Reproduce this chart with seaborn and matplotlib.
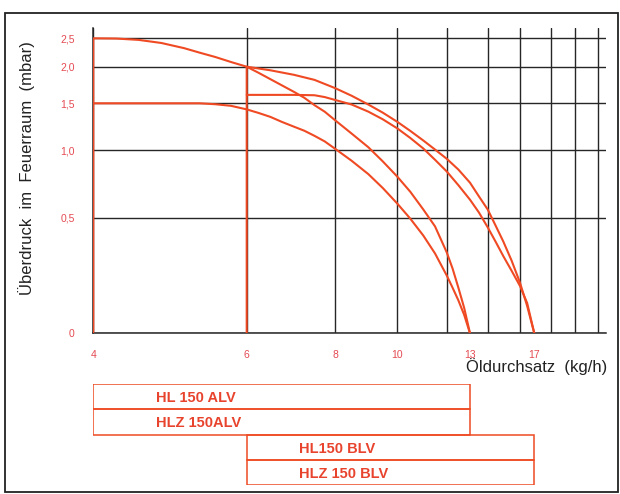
import numpy as np
import pandas as pd
import matplotlib
matplotlib.use("Agg")
import matplotlib.pyplot as plt
import seaborn as sns

# ---------------- data ----------------
# Curve ALV upper (incl. vertical edge at 4 kg/h)
alv_upper_x = [4, 4, 4.25, 4.5, 4.75, 5.0, 5.25, 5.5, 5.75, 6.0, 6.25, 6.5, 6.75, 7.0, 7.25, 7.5, 7.75,
               8.0, 8.5, 9.0, 9.5, 10.0, 10.5, 11.0, 11.5, 12.0, 12.25, 12.5, 12.75, 13.0]
alv_upper_y = [0, 2.5, 2.495, 2.466, 2.40, 2.29, 2.21, 2.145, 2.07, 2.0, 1.917, 1.83, 1.743, 1.656, 1.576,
               1.48, 1.41, 1.32, 1.176, 1.03, 0.91, 0.79, 0.68, 0.557, 0.455, 0.32, 0.24, 0.169, 0.094, 0.0]
# Curve ALV lower
alv_lower_x = [4, 5.25, 5.5, 5.75, 6.0, 6.25, 6.5, 6.75, 7.0, 7.25, 7.5, 7.75, 8.0, 8.5, 9.0, 9.5,
               10.0, 10.5, 11.0, 11.5, 12.0, 12.25, 12.5, 12.75, 13.0]
alv_lower_y = [1.5, 1.5, 1.49, 1.473, 1.435, 1.397, 1.355, 1.30, 1.25, 1.207, 1.152, 1.092, 1.014, 0.915,
               0.81, 0.706, 0.598, 0.495, 0.407, 0.314, 0.214, 0.169, 0.122, 0.068, 0.0]
# Curve BLV upper (incl. vertical edge at 6 kg/h)
blv_upper_x = [6, 6, 6.5, 7.0, 7.5, 8.0, 8.5, 9.0, 9.5, 10.0, 10.5, 11.0, 11.5, 12.0, 12.5, 13.0,
               13.5, 14.0, 14.5, 15.0, 15.5, 16.0, 16.5, 17.0]
blv_upper_y = [0, 2.0, 1.951, 1.889, 1.82, 1.708, 1.603, 1.487, 1.40, 1.302, 1.205, 1.102, 1.005, 0.931,
               0.846, 0.743, 0.649, 0.557, 0.46, 0.376, 0.276, 0.187, 0.101, 0.0]
# Curve BLV lower
blv_lower_x = [6, 7.0, 7.5, 7.75, 8.0, 8.5, 9.0, 9.5, 10.0, 10.5, 11.0, 11.5, 12.0, 12.5, 13.0,
               13.5, 14.0, 14.5, 15.0, 15.5, 16.0, 16.5, 17.0]
blv_lower_y = [1.615, 1.615, 1.61, 1.585, 1.546, 1.487, 1.411, 1.329, 1.232, 1.129, 1.016, 0.923, 0.831,
               0.726, 0.625, 0.537, 0.45, 0.376, 0.30, 0.231, 0.175, 0.112, 0.0]

# Model ranges (kg/h)
model_names = ["HL 150 ALV", "HLZ 150ALV", "HL150 BLV", "HLZ 150 BLV"]
model_min = [4, 4, 6, 6]
model_max = [13, 13, 17, 17]

x_ticks = list(range(4, 23))
x_ticklabels = {4: "4", 6: "6", 8: "8", 10: "10", 13: "13", 17: "17"}
x_grid = list(range(4, 23, 2))
y_ticks = [0, 0.5, 1.0, 1.5, 2.0, 2.5]
y_ticklabels = ["0", "0,5", "1,0", "1,5", "2,0", "2,5"]
y_minor = [0.25, 0.75, 1.25, 1.75, 2.25]

# ---------------- scale calibration of the printed (non-linear) axes ----------------
xc_val = np.array([2, 4, 5, 6, 7, 8, 9, 10, 11, 12, 13, 14, 15, 16, 17, 18, 19, 20, 21, 22, 30], float)
xc_pos = np.array([-88.1, 93.3, 184, 246.7, 294, 335, 368.3, 397.3, 423.3, 446.7, 470, 487.7,
                   503.3, 520, 534.3, 551, 562.7, 575, 588.3, 598.3, 686.3], float)
yc_val = np.array([-1, 0, .25, .5, .75, 1, 1.25, 1.5, 1.75, 2, 2.25, 2.5, 2.75, 5], float)
yc_pos = np.array([-270, 0, 67.6, 115.6, 151.6, 183.3, 206.6, 230, 248.3, 266.6, 283.3, 295, 306.5, 410], float)

def xf(v):
    return np.interp(v, xc_val, xc_pos)
def xi(p):
    return np.interp(p, xc_pos, xc_val)
def yf(v):
    return np.interp(v, yc_val, yc_pos)
def yi(p):
    return np.interp(p, yc_pos, yc_val)

# ---------------- style ----------------
sns.set_style("white")
plt.rcParams['font.family'] = ['Liberation Sans', 'DejaVu Sans']

RED = '#ef4a23'
TICKRED = '#e44a52'
TEXTRED = '#e8432d'
GRID = '#262626'

W, H = 620, 494
fig = plt.figure(figsize=(6.2, 4.94), dpi=100)

left_px, right_px, bottom_px = 93.3, 606.0, 333.3
ylim_top = 2.72
xlim_right = 22.7
top_px = bottom_px - float(yf(ylim_top))
ax = fig.add_axes([left_px / W, (H - bottom_px) / H, (right_px - left_px) / W, (bottom_px - top_px) / H])
ax.set_xscale('function', functions=(xf, xi))
ax.set_yscale('function', functions=(yf, yi))
ax.set_xlim(4, xlim_right)
ax.set_ylim(0, ylim_top)

frames = []
for name, xs, ys in [("ALV oben", alv_upper_x, alv_upper_y), ("ALV unten", alv_lower_x, alv_lower_y),
                     ("BLV oben", blv_upper_x, blv_upper_y), ("BLV unten", blv_lower_x, blv_lower_y)]:
    frames.append(pd.DataFrame({"kurve": name, "durchsatz": xs, "druck": ys}))
df = pd.concat(frames, ignore_index=True)

# ticks & grid
ax.xaxis.remove_overlapping_locs = False
ax.set_xticks(x_ticks)
ax.set_xticklabels([x_ticklabels.get(t, "") for t in x_ticks])
ax.set_xticks(x_grid, minor=True)
ax.set_yticks(y_ticks)
ax.set_yticklabels(y_ticklabels)
ax.set_yticks(y_minor, minor=True)
ax.grid(False)
ax.xaxis.grid(True, which='minor', color=GRID, lw=1.0)
ax.yaxis.grid(True, which='major', color=GRID, lw=1.0)
ax.set_axisbelow(True)

sns.lineplot(data=df, x="durchsatz", y="druck", hue="kurve", palette=[RED] * 4,
             estimator=None, sort=False, legend=False, lw=1.5, ax=ax, zorder=3)
ax.set_xlabel("")
ax.set_ylabel("")

for s in ['top', 'right']:
    ax.spines[s].set_visible(False)
for s in ['left', 'bottom']:
    ax.spines[s].set_color(GRID)
    ax.spines[s].set_linewidth(1.1)

ax.tick_params(axis='x', which='major', direction='out', length=5, width=1.0, color=GRID,
               labelsize=7.5, labelcolor=TICKRED, pad=7)
ax.tick_params(axis='x', which='minor', length=0)
ax.tick_params(axis='y', which='major', direction='out', length=8, width=1.0, color=GRID,
               labelsize=7.5, labelcolor=TICKRED, pad=5.5)
ax.tick_params(axis='y', which='minor', direction='out', length=7, width=1.0, color=GRID)

# axis titles
fig.text(27 / W, 1 - 168 / H, "Überdruck  im  Feuerraum  (mbar)", rotation=90,
         ha='center', va='center', fontsize=12, color='#222222')
fig.text(607 / W, 1 - 367 / H, "Öldurchsatz  (kg/h)", ha='right', va='center',
         fontsize=12, color='#222222')

# model range boxes, sharing the flow axis
box_top_px, box_bot_px = 384.0, 485.0
ax2 = fig.add_axes([left_px / W, (H - box_bot_px) / H, (right_px - left_px) / W,
                    (box_bot_px - box_top_px) / H], sharex=ax)
ax2.set_ylim(0, 4)
ax2.axis('off')
rows = [3.5, 2.5, 1.5, 0.5]
widths = [mx - mn for mn, mx in zip(model_min, model_max)]
ax2.barh(rows, widths, left=model_min, height=1.0, fill=False, edgecolor=RED, lw=1.1)
label_x = [4.69, 4.69, 7.12, 7.12]
for name, lx, r in zip(model_names, label_x, rows):
    ax2.text(lx, r - 0.06, name, ha='left', va='center', fontsize=10.5,
             fontweight='bold', color=TEXTRED)

# outer frame
fig.add_artist(plt.Rectangle((5 / W, 1 - 491.5 / H), 613 / W, 478.5 / H,
                             transform=fig.transFigure, fill=False, ec='#222222', lw=1.3))

fig.savefig("out.png", dpi=100)
